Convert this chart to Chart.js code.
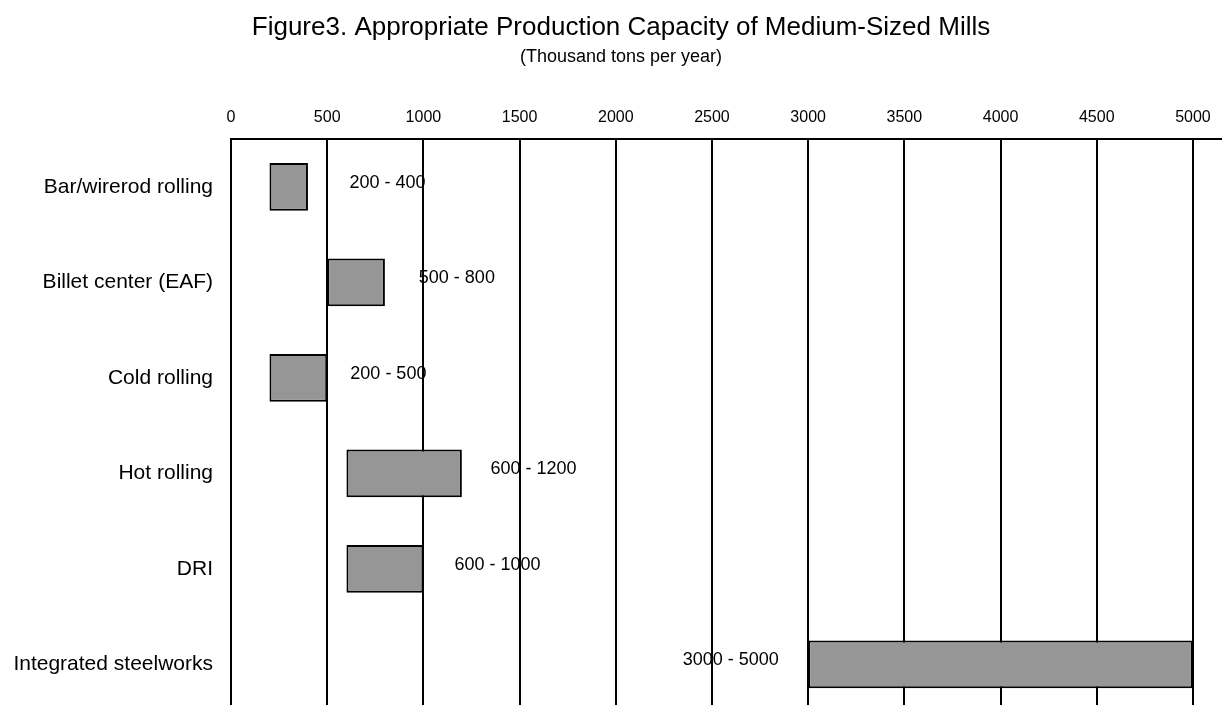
<!DOCTYPE html>
<html>
<head>
<meta charset="utf-8">
<script src="https://cdn.jsdelivr.net/npm/chart.js@4.4.0/dist/chart.umd.min.js"></script>
<style>
  html, body { margin: 0; padding: 0; overflow: hidden; background: #fff; }
</style>
</head>
<body>
<canvas id="myChart" width="1242" height="712"></canvas>
<script>
var mills = ['Bar/wirerod rolling', 'Billet center (EAF)', 'Cold rolling',
  'Hot rolling', 'DRI', 'Integrated steelworks'];
var capLow = [200, 500, 200, 600, 600, 3000];
var capHigh = [400, 800, 500, 1200, 1000, 5000];
// centre of each range label, in axis units
var labelAt = [813, 1174, 818, 1572, 1385, 2598];
var xTicks = [0, 500, 1000, 1500, 2000, 2500, 3000, 3500, 4000, 4500, 5000];

var FONT = '"Liberation Sans", Arial, sans-serif';

var rangeLabels = {
  id: 'rangeLabels',
  afterDatasetsDraw: function(chart) {
    var ctx = chart.ctx, xs = chart.scales.x, ys = chart.scales.y;
    ctx.save();
    ctx.font = '18px ' + FONT;
    ctx.fillStyle = '#000';
    ctx.textAlign = 'center';
    ctx.textBaseline = 'middle';
    mills.forEach(function(m, i) {
      ctx.fillText(capLow[i] + ' - ' + capHigh[i],
        xs.getPixelForValue(labelAt[i]), ys.getPixelForValue(i) - 4);
    });
    ctx.restore();
  }
};

var ctx = document.getElementById('myChart').getContext('2d');
var myChart = new Chart(ctx, {
  type: 'bar',
  data: {
    labels: mills,
    datasets: [{
      data: capLow.map(function(v, i) { return [v, capHigh[i]]; }),
      backgroundColor: '#969696',
      borderColor: '#000',
      borderWidth: 2,
      borderSkipped: false,
      barPercentage: 0.5,
      categoryPercentage: 1.0
    }]
  },
  options: {
    indexAxis: 'y',
    responsive: false,
    animation: false,
    layout: { padding: 0 },
    plugins: {
      legend: { display: false },
      tooltip: { enabled: false },
      title: {
        display: true,
        text: 'Figure3. Appropriate Production Capacity of Medium-Sized Mills',
        color: '#000',
        font: { family: FONT, size: 26, weight: 'normal' },
        padding: { top: 12, bottom: 0 }
      },
      subtitle: {
        display: true,
        text: '(Thousand tons per year)',
        color: '#000',
        font: { family: FONT, size: 18 },
        padding: { top: 3, bottom: 28 }
      }
    },
    scales: {
      x: {
        position: 'top',
        min: 0,
        max: 5255,
        afterBuildTicks: function(s) {
          s.ticks = xTicks.map(function(v) { return { value: v }; });
        },
        grid: { color: '#000', lineWidth: 2, drawTicks: false },
        border: { color: '#000', width: 2 },
        ticks: {
          color: '#000', padding: 12, font: { family: FONT, size: 16 },
          callback: function(v) { return String(v); }
        }
      },
      y: {
        afterFit: function(s) {
          s.width = 231;
          s.paddingTop = 0;
          s.paddingBottom = 0;
        },
        grid: { display: false, drawTicks: false },
        border: { color: '#000', width: 2 },
        ticks: { color: '#000', padding: 18, font: { family: FONT, size: 21 } }
      }
    }
  },
  plugins: [rangeLabels]
});
</script>
</body>
</html>
